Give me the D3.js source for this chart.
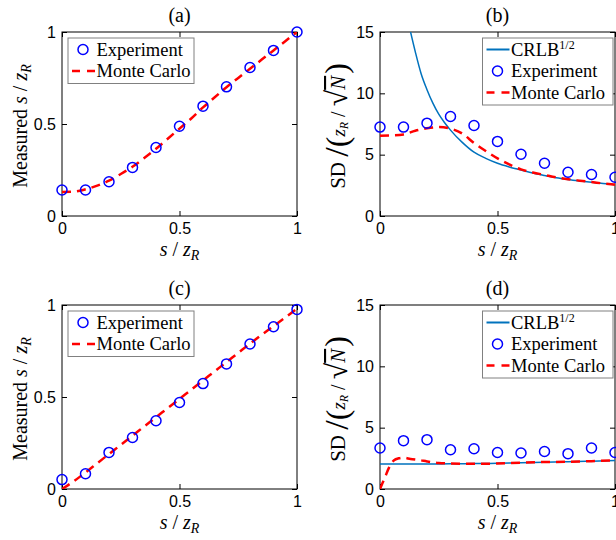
<!DOCTYPE html>
<html>
  <head>
    <meta charset="utf-8" />
    <script src="https://cdn.jsdelivr.net/npm/d3@7"></script>
    <style>
      body { margin: 0; background: #fff; }
      .tick text { font-family: "Liberation Sans", Arial, sans-serif; font-size: 16px; fill: #000; }
      .serif { font-family: "Liberation Serif", "Times New Roman", serif; fill: #000; }
    </style>
  </head>
  <body>
    <div id="master"></div>

    <script type="text/javascript">
// experiment points, s / z_R
var sExp = [0, 0.1, 0.2, 0.3, 0.4, 0.5, 0.6, 0.7, 0.8, 0.9, 1];
var expA = [0.141, 0.141, 0.186, 0.264, 0.372, 0.488, 0.597, 0.702, 0.807, 0.90, 1.0];
var expB = [7.25, 7.25, 7.57, 8.11, 7.38, 6.08, 5.03, 4.30, 3.57, 3.38, 3.16];
var expC = [0.051, 0.083, 0.199, 0.280, 0.371, 0.470, 0.573, 0.680, 0.788, 0.882, 0.976];
var expD = [3.34, 3.94, 4.02, 3.20, 3.28, 2.98, 2.93, 3.06, 2.88, 3.34, 2.98];

// monte carlo curves
var sMc = [0, 0.05, 0.1, 0.15, 0.2, 0.25, 0.3, 0.35, 0.4, 0.45, 0.5, 0.55, 0.6, 0.65, 0.7, 0.75, 0.8, 0.85, 0.9, 0.95, 1];
var mcA = [0.13, 0.132, 0.145, 0.165, 0.192, 0.228, 0.268, 0.315, 0.365, 0.42, 0.475, 0.53, 0.59, 0.645, 0.70, 0.75, 0.80, 0.85, 0.90, 0.95, 1.0];
var mcB = [6.55, 6.57, 6.65, 6.95, 7.15, 7.25, 7.12, 6.72, 5.95, 5.30, 4.70, 4.20, 3.80, 3.55, 3.35, 3.15, 3.00, 2.88, 2.77, 2.65, 2.55];
var mcC = [0, 0.042, 0.09, 0.14, 0.19, 0.24, 0.29, 0.34, 0.39, 0.44, 0.49, 0.54, 0.59, 0.64, 0.69, 0.74, 0.79, 0.838, 0.885, 0.932, 0.98];
var sMcD = [0, 0.02, 0.04, 0.06, 0.08, 0.1, 0.13, 0.17, 0.2, 0.25, 0.3, 0.4, 0.5, 0.6, 0.7, 0.8, 0.9, 1];
var mcD = [0, 0.9, 1.8, 2.35, 2.5, 2.55, 2.45, 2.35, 2.25, 2.12, 2.08, 2.05, 2.08, 2.15, 2.2, 2.22, 2.27, 2.35];

// CRLB^(1/2)
var sCrlbB = [0.13, 0.15, 0.175, 0.2, 0.225, 0.25, 0.275, 0.3, 0.35, 0.4, 0.45, 0.5, 0.55, 0.6, 0.65, 0.7, 0.75, 0.8, 0.85, 0.9, 0.95, 1];
var crlbB = [15.0, 13.4, 11.6, 10.3, 9.2, 8.3, 7.6, 7.0, 6.0, 5.2, 4.7, 4.3, 4.0, 3.75, 3.5, 3.3, 3.12, 2.98, 2.86, 2.75, 2.65, 2.55];
var sCrlbD = [0, 0.1, 0.2, 0.3, 0.4, 0.5, 0.6, 0.7, 0.8, 0.9, 1];
var crlbD = [2.03, 2.03, 2.04, 2.05, 2.07, 2.10, 2.14, 2.18, 2.22, 2.27, 2.33];

var xTicks = [0, 0.5, 1];
var yTicksPos = [0, 0.5, 1];
var yTicksSd = [0, 5, 10, 15];
var titles = ["(a)", "(b)", "(c)", "(d)"];

var width = 616, height = 540;
var pw = 235, ph = 184;

var svg = d3.select("#master").append("svg")
  .attr("width", width)
  .attr("height", height);

var blue = "#0000ff", red = "#ff0000", crlbColor = "#0072bd";

function zip(xs, ys) {
  return xs.map(function(x, i) { return [x, ys[i]]; });
}

function drawPanel(p) {
  var g = svg.append("g").attr("transform", "translate(" + p.left + "," + p.top + ")");
  var x = d3.scaleLinear().domain([0, 1]).range([0, pw]);
  var y = d3.scaleLinear().domain([0, p.ymax]).range([ph, 0]);

  var clipId = "clip" + p.key;
  g.append("clipPath").attr("id", clipId)
    .append("rect").attr("width", pw).attr("height", ph);

  var fmt = d3.format("~g");
  g.append("g").attr("transform", "translate(0," + ph + ")")
    .call(d3.axisBottom(x).tickValues(xTicks).tickFormat(fmt).tickSizeInner(-5).tickSizeOuter(0).tickPadding(7));
  g.append("g")
    .call(d3.axisLeft(y).tickValues(p.yticks).tickFormat(fmt).tickSizeInner(-5).tickSizeOuter(0).tickPadding(6));
  g.append("g")
    .call(d3.axisTop(x).tickValues(xTicks).tickFormat("").tickSizeInner(-5).tickSizeOuter(0));
  g.append("g").attr("transform", "translate(" + pw + ",0)")
    .call(d3.axisRight(y).tickValues(p.yticks).tickFormat("").tickSizeInner(-5).tickSizeOuter(0));
  g.selectAll(".domain").remove();
  g.append("rect").attr("width", pw).attr("height", ph)
    .attr("fill", "none").attr("stroke", "#000").attr("stroke-width", 1);

  var line = d3.line().x(function(d) { return x(d[0]); }).y(function(d) { return y(d[1]); })
    .curve(d3.curveMonotoneX);
  var plot = g.append("g").attr("clip-path", "url(#" + clipId + ")");

  if (p.crlb) {
    plot.append("path").datum(zip(p.crlbX, p.crlb))
      .attr("d", line).attr("fill", "none")
      .attr("stroke", crlbColor).attr("stroke-width", 1.5);
  }
  plot.append("path").datum(zip(p.mcX, p.mc))
    .attr("d", line).attr("fill", "none")
    .attr("stroke", red).attr("stroke-width", 2.5)
    .attr("stroke-dasharray", "9,6");

  g.selectAll(".pt").data(zip(sExp, p.exp)).enter()
    .append("circle")
      .attr("cx", function(d) { return x(d[0]); })
      .attr("cy", function(d) { return y(d[1]); })
      .attr("r", 5)
      .attr("fill", "none").attr("stroke", blue).attr("stroke-width", 1.5);

  // title
  g.append("text").attr("class", "serif")
    .attr("x", pw / 2).attr("y", -10)
    .attr("text-anchor", "middle").attr("font-size", 20)
    .text(p.title);

  // x label
  var xl = g.append("text").attr("class", "serif")
    .attr("x", pw / 2).attr("y", ph + 40)
    .attr("text-anchor", "middle").attr("font-size", 20);
  xl.append("tspan").attr("font-style", "italic").text("s");
  xl.append("tspan").text(" / ");
  xl.append("tspan").attr("font-style", "italic").text("z");
  xl.append("tspan").attr("font-style", "italic").attr("font-size", 14).attr("dy", 4).text("R");

  // y label
  var yl = g.append("text").attr("class", "serif")
    .attr("transform", "translate(" + p.ylabelX + "," + (ph / 2 + 2) + ") rotate(-90)")
    .attr("text-anchor", "middle").attr("font-size", 20);
  if (p.sd) {
    yl.attr("font-size", 21);
    yl.append("tspan").text("SD ");
    yl.append("tspan").attr("font-size", 34).attr("dy", 3).text("/");
    yl.append("tspan").attr("font-size", 32).text("(");
    yl.append("tspan").attr("font-style", "italic").attr("font-size", 19).attr("dy", -3).text("z");
    yl.append("tspan").attr("font-style", "italic").attr("font-size", 12).attr("dy", 3).text("R");
    yl.append("tspan").attr("font-size", 20).attr("dy", -3).text(" / ");
    yl.append("tspan").attr("font-size", 30).attr("dy", 2).text("\u221A");
    yl.append("tspan").attr("font-style", "italic").attr("font-size", 21).attr("dy", -2)
      .attr("text-decoration", "overline").text("N");
    yl.append("tspan").attr("font-size", 32).attr("dy", 2).attr("dx", 2).text(")");
  } else {
    yl.append("tspan").text("Measured ");
    yl.append("tspan").attr("font-style", "italic").text("s");
    yl.append("tspan").text(" / ");
    yl.append("tspan").attr("font-style", "italic").text("z");
    yl.append("tspan").attr("font-style", "italic").attr("font-size", 14).attr("dy", 4).text("R");
  }

  // legend
  var entries = p.crlb ? ["crlb", "exp", "mc"] : ["exp", "mc"];
  var lg = g.append("g").attr("transform", "translate(" + p.legX + ",6)");
  lg.append("rect").attr("width", p.legW).attr("height", entries.length * 21.5 + 2.5)
    .attr("fill", "#fff").attr("stroke", "#808080").attr("stroke-width", 1);
  entries.forEach(function(e, i) {
    var cy = 11.5 + i * 21.5;
    if (e === "exp") {
      lg.append("circle").attr("cx", 15).attr("cy", cy).attr("r", 5)
        .attr("fill", "none").attr("stroke", blue).attr("stroke-width", 1.5);
    } else if (e === "mc") {
      lg.append("line").attr("x1", 4).attr("x2", 27).attr("y1", cy).attr("y2", cy)
        .attr("stroke", red).attr("stroke-width", 2.5).attr("stroke-dasharray", "8,7");
    } else {
      lg.append("line").attr("x1", 4).attr("x2", 27).attr("y1", cy).attr("y2", cy)
        .attr("stroke", crlbColor).attr("stroke-width", 2);
    }
    var t = lg.append("text").attr("class", "serif")
      .attr("x", 28.5).attr("y", cy + 6).attr("font-size", 18.5);
    if (e === "exp") t.text("Experiment");
    else if (e === "mc") t.text("Monte Carlo");
    else {
      t.append("tspan").text("CRLB");
      t.append("tspan").attr("font-size", 12).attr("dy", -7).text("1/2");
    }
  });
}

drawPanel({key: "a", left: 62, top: 32, ymax: 1, yticks: yTicksPos, title: titles[0],
  exp: expA, mcX: sMc, mc: mcA, ylabelX: -35, legX: 6, legW: 126});
drawPanel({key: "b", left: 380, top: 32, ymax: 15, yticks: yTicksSd, title: titles[1], sd: true,
  exp: expB, mcX: sMc, mc: mcB, crlbX: sCrlbB, crlb: crlbB, ylabelX: -35, legX: 102.5, legW: 130.5});
drawPanel({key: "c", left: 62, top: 305, ymax: 1, yticks: yTicksPos, title: titles[2],
  exp: expC, mcX: sMc, mc: mcC, ylabelX: -35, legX: 6, legW: 126});
drawPanel({key: "d", left: 380, top: 305, ymax: 15, yticks: yTicksSd, title: titles[3], sd: true,
  exp: expD, mcX: sMcD, mc: mcD, crlbX: sCrlbD, crlb: crlbD, ylabelX: -35, legX: 102.5, legW: 130.5});
    </script>
  </body>
</html>
